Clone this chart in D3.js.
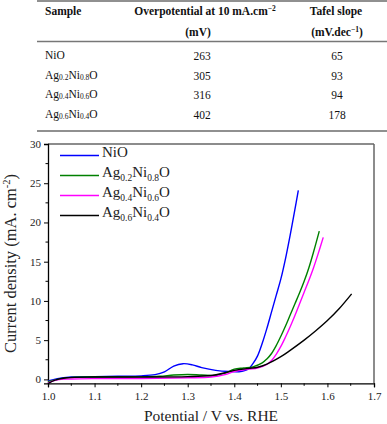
<!DOCTYPE html>
<html>
<head>
<meta charset="utf-8">
<script src="https://cdn.jsdelivr.net/npm/d3@7"></script>
<style>
  body { margin: 0; background: #fff; }
  svg { display: block; font-family: "Liberation Serif", "DejaVu Serif", serif; }
  svg text { font-family: "Liberation Serif", "DejaVu Serif", serif; }
</style>
</head>
<body>
<div id="chart"></div>
<script>
// table data
var samples = ["NiO", "Ag0.2Ni0.8O", "Ag0.4Ni0.6O", "Ag0.6Ni0.4O"];
var overpotential = [263, 305, 316, 402];
var tafel = [65, 93, 94, 178];

// LSV curves (potential V vs RHE, current density mA cm-2)
var vNiO = [1.00, 1.02, 1.05, 1.10, 1.15, 1.20, 1.23, 1.25, 1.27, 1.29, 1.31, 1.33, 1.36, 1.39, 1.41, 1.43, 1.44, 1.45, 1.46, 1.47, 1.48, 1.49, 1.50, 1.51, 1.52, 1.53, 1.5375];
var jNiO = [-0.2, 0.1, 0.3, 0.35, 0.4, 0.45, 0.6, 0.95, 1.7, 2.0, 1.85, 1.5, 1.15, 1.0, 0.98, 1.3, 2.0, 3.0, 4.6, 6.5, 8.6, 10.7, 12.8, 15.4, 18.4, 21.6, 24.1];

var vAg2 = [1.00, 1.02, 1.05, 1.10, 1.15, 1.20, 1.24, 1.27, 1.30, 1.33, 1.36, 1.38, 1.40, 1.42, 1.44, 1.46, 1.47, 1.48, 1.49, 1.50, 1.51, 1.52, 1.53, 1.54, 1.55, 1.56, 1.57, 1.5825];
var jAg2 = [-0.3, 0.0, 0.25, 0.3, 0.3, 0.32, 0.4, 0.55, 0.62, 0.55, 0.5, 0.8, 1.3, 1.45, 1.6, 2.1, 2.6, 3.3, 4.3, 5.5, 6.8, 8.2, 9.6, 11.0, 12.5, 14.2, 16.2, 18.9];

var vAg4 = [1.00, 1.02, 1.05, 1.10, 1.20, 1.30, 1.35, 1.38, 1.40, 1.43, 1.45, 1.47, 1.48, 1.49, 1.50, 1.51, 1.52, 1.53, 1.54, 1.55, 1.56, 1.57, 1.58, 1.591];
var jAg4 = [-0.45, -0.05, 0.05, 0.1, 0.12, 0.2, 0.3, 0.6, 1.0, 1.3, 1.45, 1.9, 2.4, 3.2, 4.2, 5.4, 6.7, 8.1, 9.6, 11.1, 12.6, 14.2, 16.0, 18.1];

var vAg6 = [1.00, 1.015, 1.04, 1.10, 1.20, 1.30, 1.35, 1.38, 1.40, 1.43, 1.45, 1.47, 1.50, 1.52, 1.55, 1.575, 1.60, 1.625, 1.652];
var jAg6 = [-0.55, -0.1, 0.2, 0.3, 0.3, 0.35, 0.5, 0.85, 1.15, 1.4, 1.55, 1.95, 2.9, 3.7, 5.0, 6.2, 7.5, 9.0, 10.9];

var seriesNames = ["NiO", "Ag0.2Ni0.8O", "Ag0.4Ni0.6O", "Ag0.6Ni0.4O"];
var seriesColors = ["#0000ff", "#008000", "#ff00ff", "#000000"];
var seriesV = [vNiO, vAg2, vAg4, vAg6];
var seriesJ = [jNiO, jAg2, jAg4, jAg6];

var xTicks = [1.0, 1.1, 1.2, 1.3, 1.4, 1.5, 1.6, 1.7];
var yTicks = [0, 5, 10, 15, 20, 25, 30];

var W = 387, H = 424;
var svg = d3.select("#chart").append("svg")
  .attr("width", W).attr("height", H);

// split a formula like Ag0.2Ni0.8O into normal / subscript pieces
function pieces(name) {
  var out = [];
  var re = /(\d\.\d)/g, last = 0, m;
  while ((m = re.exec(name)) !== null) {
    if (m.index > last) out.push({ t: name.slice(last, m.index), sub: false });
    out.push({ t: m[1], sub: true });
    last = m.index + m[1].length;
  }
  if (last < name.length) out.push({ t: name.slice(last), sub: false });
  return out;
}

function writeFormula(sel, name, subSize, dy) {
  pieces(name).forEach(function(p) {
    sel.append("tspan")
      .attr("font-size", p.sub ? subSize : null)
      .attr("dy", p.sub ? dy : (sel.selectAll("tspan").size() ? -dy : 0))
      .text(p.t);
  });
}

// ---- table ----
var table = svg.append("g").attr("font-size", 11.5).attr("fill", "#111");
table.append("line").attr("x1", 37).attr("x2", 387).attr("y1", 1).attr("y2", 1)
  .attr("stroke", "#222").attr("stroke-width", 1.2);
table.append("line").attr("x1", 37).attr("x2", 387).attr("y1", 41.5).attr("y2", 41.5)
  .attr("stroke", "#777").attr("stroke-width", 1.5);
table.append("line").attr("x1", 37).attr("x2", 387).attr("y1", 131).attr("y2", 131)
  .attr("stroke", "#222").attr("stroke-width", 1.2);

var head = table.append("g").attr("font-weight", "bold");
head.append("text").attr("x", 45).attr("y", 15).text("Sample");
var h2 = head.append("text").attr("x", 205).attr("y", 15).attr("text-anchor", "middle");
h2.append("tspan").text("Overpotential at 10 mA.cm");
h2.append("tspan").attr("font-size", 7.5).attr("dy", -4).text("\u22122");
head.append("text").attr("x", 198).attr("y", 36).attr("text-anchor", "middle").text("(mV)");
head.append("text").attr("x", 336).attr("y", 15).attr("text-anchor", "middle").text("Tafel slope");
var h4 = head.append("text").attr("x", 337).attr("y", 36).attr("text-anchor", "middle");
h4.append("tspan").text("(mV.dec");
h4.append("tspan").attr("font-size", 7.5).attr("dy", -4).text("\u22121");
h4.append("tspan").attr("dy", 4).text(")");

var rowY = d3.scaleLinear().domain([0, 3]).range([60, 119]);
samples.forEach(function(s, i) {
  var t = table.append("text").attr("x", 45).attr("y", rowY(i));
  writeFormula(t, s, 7.5, 1);
  table.append("text").attr("x", 202).attr("y", rowY(i)).attr("text-anchor", "middle").text(overpotential[i]);
  table.append("text").attr("x", 337).attr("y", rowY(i)).attr("text-anchor", "middle").text(tafel[i]);
});

// ---- chart ----
var x = d3.scaleLinear().domain([1.0, 1.7]).range([48, 374]);
var y = d3.scaleLinear().domain([-0.5, 30]).range([383.3, 144]);

var plot = svg.append("g");

// frame top/right
plot.append("line").attr("x1", x(1.0)).attr("x2", x(1.7)).attr("y1", y(30)).attr("y2", y(30))
  .attr("stroke", "#666").attr("stroke-width", 1.5);
plot.append("line").attr("x1", x(1.7)).attr("x2", x(1.7)).attr("y1", y(30)).attr("y2", y(-0.5))
  .attr("stroke", "#666").attr("stroke-width", 1.5);

var xAxis = d3.axisBottom(x).tickValues(xTicks).tickFormat(d3.format(".1f")).tickSize(4).tickPadding(5);
var gx = plot.append("g").attr("transform", "translate(0," + y(-0.5) + ")").call(xAxis);
var xMinor = d3.range(1.05, 1.7, 0.1);
gx.selectAll(".minor").data(xMinor).enter().append("line")
  .attr("x1", function(d) { return x(d); }).attr("x2", function(d) { return x(d); })
  .attr("y1", 0).attr("y2", 2.5).attr("stroke", "#000");

var yAxis = d3.axisLeft(y).tickValues(yTicks).tickSize(4).tickPadding(3);
var gy = plot.append("g").attr("transform", "translate(" + x(1.0) + ",0)").call(yAxis);
var yMinor = d3.range(2.5, 30, 5);
gy.selectAll(".minor").data(yMinor).enter().append("line")
  .attr("y1", function(d) { return y(d); }).attr("y2", function(d) { return y(d); })
  .attr("x1", 0).attr("x2", -2.5).attr("stroke", "#000");

[gx, gy].forEach(function(g) {
  g.attr("font-family", null);
  g.select(".domain").attr("stroke", "#000").attr("stroke-width", 1.3);
  g.selectAll("text").attr("font-size", 11).attr("fill", "#222");
});

// curves
var line = d3.line()
  .x(function(d) { return x(d[0]); })
  .y(function(d) { return y(d[1]); })
  .curve(d3.curveCatmullRom.alpha(0.5));

seriesV.forEach(function(vs, k) {
  var pts = vs.map(function(v, i) { return [v, seriesJ[k][i]]; });
  plot.append("path").datum(pts)
    .attr("d", line)
    .attr("fill", "none")
    .attr("stroke", seriesColors[k])
    .attr("stroke-width", 1.4);
});

// legend
var legend = plot.append("g").attr("font-size", 15);
seriesNames.forEach(function(n, k) {
  var ly = 155.5 + k * 20;
  legend.append("line").attr("x1", 60).attr("x2", 99).attr("y1", ly).attr("y2", ly)
    .attr("stroke", seriesColors[k]).attr("stroke-width", 1.6);
  var t = legend.append("text").attr("x", 102).attr("y", ly + 5).attr("fill", "#222");
  writeFormula(t, n, 9.5, 4);
});

// axis titles
svg.append("text").attr("x", 211).attr("y", 421).attr("text-anchor", "middle")
  .attr("font-size", 15.5).attr("fill", "#222").text("Potential / V vs. RHE");

var yt = svg.append("text").attr("transform", "translate(16,263.5) rotate(-90)")
  .attr("text-anchor", "middle").attr("font-size", 16.5).attr("fill", "#222");
yt.append("tspan").text("Current density (mA. cm");
yt.append("tspan").attr("font-size", 10.5).attr("dy", -6).text("-2");
yt.append("tspan").attr("dy", 6).text(")");
</script>
</body>
</html>
